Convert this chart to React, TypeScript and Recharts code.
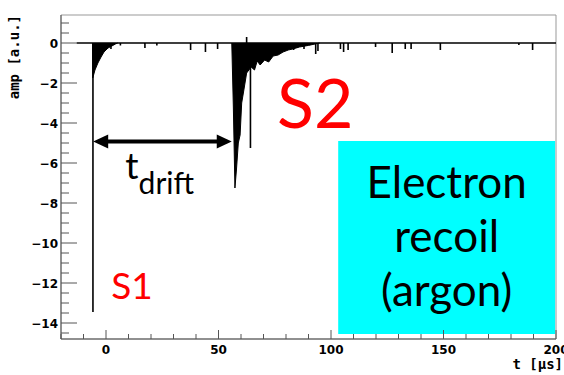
import {
  ComposedChart,
  Line,
  Area,
  XAxis,
  YAxis,
  ReferenceArea,
  ReferenceLine,
  ReferenceDot,
} from 'recharts'

// axis ticks (ROOT style: minor ticks every 10 µs / 0.5 a.u.)
const xTicks = [-20, -10, 0, 10, 20, 30, 40, 50, 60, 70, 80, 90, 100, 110, 120, 130, 140, 150, 160, 170, 180, 190, 200]
const yTicks = [
  -14.5, -14, -13.5, -13, -12.5, -12, -11.5, -11, -10.5, -10, -9.5, -9, -8.5, -8, -7.5, -7, -6.5, -6,
  -5.5, -5, -4.5, -4, -3.5, -3, -2.5, -2, -1.5, -1, -0.5, 0, 0.5, 1,
]

// waveform baseline extent (µs)
const traceStart = -13
const traceEnd = 200

// single-sample spikes
const spikes = [
  { t: -5.8, amp: -13.45 },
  { t: 2.2, amp: -0.3 },
  { t: 6.4, amp: -0.12 },
  { t: 17.3, amp: -0.25 },
  { t: 22.6, amp: -0.12 },
  { t: 37.6, amp: -0.35 },
  { t: 44.2, amp: -0.45 },
  { t: 49.6, amp: -0.3 },
  { t: 62.5, amp: 0.3 },
  { t: 64.2, amp: -5.25 },
  { t: 83.4, amp: -0.35 },
  { t: 85, amp: -0.25 },
  { t: 88, amp: -0.3 },
  { t: 93.2, amp: -0.55 },
  { t: 94.2, amp: -0.4 },
  { t: 104.2, amp: -0.3 },
  { t: 105.6, amp: -0.45 },
  { t: 107.6, amp: -0.35 },
  { t: 119.8, amp: -0.2 },
  { t: 127.2, amp: -0.5 },
  { t: 133, amp: -0.3 },
  { t: 135.6, amp: -0.3 },
  { t: 148.6, amp: -0.35 },
  { t: 183.5, amp: -0.1 },
  { t: 189.6, amp: -0.35 },
]

// dense S1 tail (lower envelope)
const s1Tail = [
  { t: -6.0, amp: 0 },
  { t: -5.9, amp: -1.75 },
  { t: -4.9, amp: -1.35 },
  { t: -3.6, amp: -1.0 },
  { t: -2.2, amp: -0.7 },
  { t: -0.9, amp: -0.45 },
  { t: 0.9, amp: -0.25 },
  { t: 2.6, amp: -0.15 },
  { t: 4.2, amp: -0.05 },
  { t: 5.2, amp: 0 },
]

// dense S2 pulse (lower envelope)
const s2Tail = [
  { t: 55.9, amp: 0 },
  { t: 56.6, amp: -3.2 },
  { t: 57.3, amp: -7.25 },
  { t: 58.0, amp: -6.3 },
  { t: 58.8, amp: -5.0 },
  { t: 59.6, amp: -4.6 },
  { t: 60.3, amp: -3.0 },
  { t: 61.2, amp: -2.4 },
  { t: 62.5, amp: -1.5 },
  { t: 64.5, amp: -1.2 },
  { t: 66, amp: -1.35 },
  { t: 67.2, amp: -0.9 },
  { t: 68.5, amp: -1.1 },
  { t: 70.5, amp: -0.85 },
  { t: 72.3, amp: -0.95 },
  { t: 74.3, amp: -0.65 },
  { t: 76.5, amp: -0.6 },
  { t: 78.7, amp: -0.45 },
  { t: 81, amp: -0.35 },
  { t: 83, amp: -0.3 },
  { t: 86, amp: -0.2 },
  { t: 90, amp: -0.12 },
  { t: 95, amp: 0 },
]

const boxLines = ['Electron', 'recoil', '(argon)']

const trace = [
  { t: traceStart, amp: 0 },
  ...spikes.flatMap((s) => [
    { t: s.t, amp: 0 },
    { t: s.t, amp: s.amp },
    { t: s.t, amp: 0 },
  ]),
  { t: traceEnd, amp: 0 },
]

const AXIS = '#555'
const tickFont = { fontFamily: '"DejaVu Sans", sans-serif', fontWeight: 700, fontSize: 12, fill: '#000' }
const titleFont = { fontFamily: '"DejaVu Sans Mono", monospace', fontWeight: 700, fontSize: 14, fill: '#000' }
const noteFont = 'Lato, "Open Sans", sans-serif'

const fmt = (v: number) => (v < 0 ? '\u2212' + Math.abs(v) : String(v))

function XTick({ x, y, payload }: any) {
  const major = payload.value % 50 === 0
  return (
    <g>
      <line x1={x} x2={x} y1={y} y2={y - (major ? 9 : 5)} stroke={AXIS} />
      {major && (
        <text x={x} y={y + 15} textAnchor="middle" {...tickFont}>
          {fmt(payload.value)}
        </text>
      )}
    </g>
  )
}

function YTick({ x, y, payload }: any) {
  const major = payload.value % 2 === 0
  return (
    <g>
      <line x1={x} x2={x + (major ? 16 : 8)} y1={y} y2={y} stroke={AXIS} />
      {major && (
        <text x={x - 3} y={y + 4.5} textAnchor="end" {...tickFont}>
          {fmt(payload.value)}
        </text>
      )}
    </g>
  )
}

function Arrowhead(dir: 1 | -1) {
  return ({ cx, cy }: any) => (
    <polygon
      points={`${cx},${cy} ${cx + dir * 15},${cy - 7} ${cx + dir * 15},${cy + 7}`}
      fill="#000"
    />
  )
}

export default function App() {
  return (
    <div style={{ position: 'absolute', left: 0, top: 0, background: '#fff' }}>
      <ComposedChart width={564} height={375} margin={{ top: 15, right: 8, bottom: 6, left: 0 }}>
        <XAxis
          type="number"
          dataKey="t"
          domain={[-20, 200]}
          ticks={xTicks}
          interval={0}
          allowDataOverflow
          tickSize={0}
          tickMargin={0}
          tick={<XTick />}
          axisLine={{ stroke: AXIS }}
          height={30}
          label={({ viewBox }: any) => (
            <text
              x={viewBox.x + viewBox.width + 7}
              y={viewBox.y + 30}
              textAnchor="end"
              {...titleFont}
            >
              t  [µs]
            </text>
          )}
        />
        <YAxis
          type="number"
          domain={[-14.8, 1.4]}
          ticks={yTicks}
          interval={0}
          allowDataOverflow
          tickSize={0}
          tickMargin={0}
          tick={<YTick />}
          axisLine={{ stroke: AXIS }}
          width={61}
          label={({ viewBox }: any) => (
            <text
              x={viewBox.x + 19}
              y={viewBox.y}
              transform={`rotate(-90 ${viewBox.x + 19} ${viewBox.y})`}
              textAnchor="end"
              {...titleFont}
            >
              amp  [a.u.]
            </text>
          )}
        />

        <ReferenceArea x1={-20} x2={200} y1={-14.8} y2={1.4} fill="none" stroke="#999" strokeWidth={1} />

        <ReferenceArea
          x1={103.2}
          x2={199.6}
          y1={-14.55}
          y2={-4.9}
          fill="#00ffff"
          fillOpacity={1}
          stroke="none"
          label={({ viewBox }: any) => (
            <g>
              {boxLines.map((s, i) => (
                <text
                  key={s}
                  x={viewBox.x + viewBox.width / 2}
                  y={viewBox.y + 57 + i * 54}
                  textAnchor="middle"
                  fontFamily={noteFont}
                  fontSize={44}
                  fill="#000"
                >
                  {s}
                </text>
              ))}
            </g>
          )}
        />

        <Area
          data={s1Tail}
          dataKey="amp"
          type="linear"
          baseValue={0}
          stroke="#000"
          strokeWidth={1}
          fill="#000"
          fillOpacity={1}
          isAnimationActive={false}
        />
        <Area
          data={s2Tail}
          dataKey="amp"
          type="linear"
          baseValue={0}
          stroke="#000"
          strokeWidth={1}
          fill="#000"
          fillOpacity={1}
          isAnimationActive={false}
        />
        <Line
          data={trace}
          dataKey="amp"
          type="linear"
          stroke="#000"
          strokeWidth={1.6}
          dot={false}
          isAnimationActive={false}
        />

        <ReferenceLine
          segment={[
            { x: -3, y: -4.93 },
            { x: 53, y: -4.93 },
          ]}
          stroke="#000"
          strokeWidth={4}
        />
        <ReferenceDot x={-5.7} y={-4.93} r={0} shape={Arrowhead(1)} />
        <ReferenceDot x={55.9} y={-4.93} r={0} shape={Arrowhead(-1)} />

        <ReferenceDot
          x={8.6}
          y={-6.8}
          r={0}
          shape={({ cx, cy }: any) => (
            <text x={cx} y={cy} fontFamily={noteFont} fontSize={37} fill="#000">
              t
              <tspan fontSize={30} dy={15}>
                drift
              </tspan>
            </text>
          )}
        />
        <ReferenceDot
          x={2.3}
          y={-12.8}
          r={0}
          shape={({ cx, cy }: any) => (
            <text x={cx} y={cy} fontFamily={noteFont} fontSize={37} fill="#ff0000">
              S1
            </text>
          )}
        />
        <ReferenceDot
          x={76}
          y={-4.25}
          r={0}
          shape={({ cx, cy }: any) => (
            <text x={cx} y={cy} fontFamily={noteFont} fontSize={68} fill="#ff0000">
              S2
            </text>
          )}
        />
      </ComposedChart>
    </div>
  )
}
